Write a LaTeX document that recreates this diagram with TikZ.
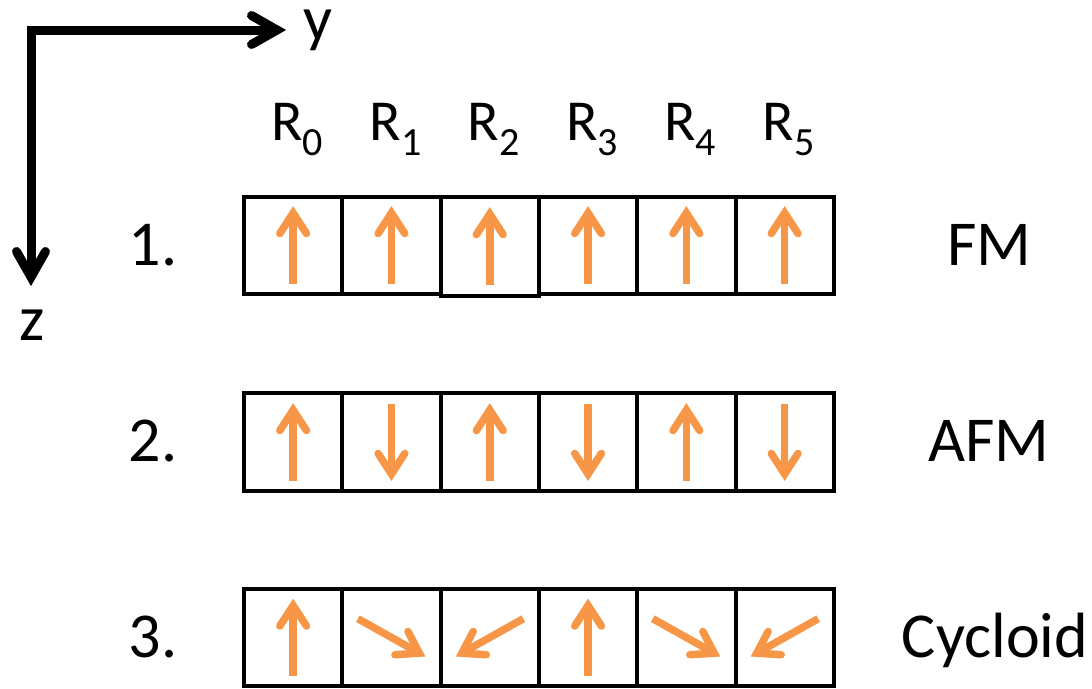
\documentclass[tikz,border=0pt]{standalone}
\usepackage{fontspec}
\setmainfont{Carlito}
\usetikzlibrary{calc}
\definecolor{spinorange}{HTML}{F79646}
\newcommand\rsub[1]{R\raisebox{-15pt}{\fontsize{40}{40}\selectfont #1}}
\newcommand\spinarrow[3]{%
  \coordinate (sa) at ($(#1)+({-38.5*#2},{-38.5*#3})$);
  \coordinate (sb) at ($(#1)+({32*#2},{32*#3})$);
  \draw[spinshaft] (sa) -- (sb);
  \draw[spinhead] ($(sb)!24.5pt!33:(sa)$) -- (sb) -- ($(sb)!24.5pt!-33:(sa)$);
}
\begin{document}
\begin{tikzpicture}[x=1pt,y=-1pt,
  cell/.style={draw=black, line width=4pt, minimum width=98.3pt, minimum height=97pt, inner sep=0pt, outer sep=0pt},
  spinshaft/.style={draw=spinorange, line width=7.5pt, line cap=butt},
  spinhead/.style={draw=spinorange, line width=7.5pt, line cap=round, line join=miter},
  axisline/.style={draw=black, line width=9pt, line join=miter, line cap=butt},
  axishead/.style={draw=black, line width=9pt, line join=miter, line cap=round},
  biglab/.style={font=\fontsize{64}{70}\selectfont, inner sep=0pt, anchor=base},
  axlab/.style={font=\fontsize{64}{70}\selectfont, inner sep=0pt, anchor=base},
  rlab/.style={font=\fontsize{58}{64}\selectfont, inner sep=0pt, anchor=base}
]
\useasboundingbox (0,0) rectangle (1092,688);
\fill[white] (0,0) rectangle (1092,688);

% axes
\coordinate (O) at (31,30);
\coordinate (ytip) at (277,30);
\coordinate (ztip) at (31,277);
\draw[axisline] (ztip) -- (O) -- (ytip);
\draw[axishead] ($(ytip)!29.3pt!29.6:(O)$) -- (ytip) -- ($(ytip)!29.3pt!-29.6:(O)$);
\draw[axishead] ($(ztip)!29.3pt!29.6:(O)$) -- (ztip) -- ($(ztip)!29.3pt!-29.6:(O)$);
\node[axlab, text height=30pt, text depth=17pt] (ylab) at (318,40) {y};
\node[axlab] (zlab) at (32,340) {z};

% column labels
\foreach \i/\x in {0/293.15,1/391.45,2/489.75,3/588.05,4/686.35,5/784.65}{
  \node[rlab] (r\i) at (\x+4,140) {\rsub{\i}};
}

% cells
\foreach \i/\x in {0/293.15,1/391.45,3/588.05,4/686.35,5/784.65}{
  \node[cell] (c1\i) at (\x,245) {};
}
\node[cell, minimum height=99pt] (c12) at (489.75,246) {};
\foreach \i/\x in {0/293.15,1/391.45,2/489.75,3/588.05,4/686.35,5/784.65}{
  \node[cell, minimum height=97.4pt] (c2\i) at (\x,442) {};
  \node[cell] (c3\i) at (\x,637.5) {};
}

% spins row 1 (FM)
\foreach \i in {0,...,5}{ \spinarrow{c1\i}{0}{-1} }
% spins row 2 (AFM)
\spinarrow{c20}{0}{-1}
\spinarrow{c21}{0}{1}
\spinarrow{c22}{0}{-1}
\spinarrow{c23}{0}{1}
\spinarrow{c24}{0}{-1}
\spinarrow{c25}{0}{1}
% spins row 3 (Cycloid)
\spinarrow{c30}{0}{-1}
\spinarrow{c31}{0.872}{0.489}
\spinarrow{c32}{-0.872}{0.489}
\spinarrow{c33}{0}{-1}
\spinarrow{c34}{0.872}{0.489}
\spinarrow{c35}{-0.872}{0.489}

% row labels
\node[biglab] (n1) at (153,265.5) {1.};
\node[biglab] (n2) at (153,461.5) {2.};
\node[biglab] (n3) at (153,657.5) {3.};
\node[biglab] (fm) at (989.5,265.5) {FM};
\node[biglab] (afm) at (989,461.5) {AFM};
\node[biglab] (cyc) at (995,657) {Cycloid};
\end{tikzpicture}
\end{document}
